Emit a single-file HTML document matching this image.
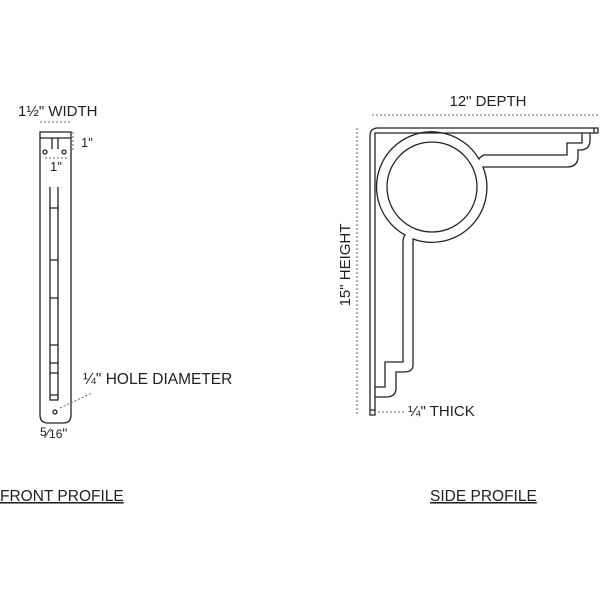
<!DOCTYPE html>
<html><head><style>
html,body{margin:0;padding:0;background:#fff;width:600px;height:600px;overflow:hidden}
text{font-family:"Liberation Sans",sans-serif;fill:#222}
</style></head><body>
<svg width="600" height="600" viewBox="0 0 600 600" xmlns="http://www.w3.org/2000/svg">
<g fill="none" stroke="#222" stroke-width="1.3">
<path d="M40 132 H71 V415 Q71 423 63 423 H48 Q40 423 40 415 Z"/>
<line x1="40" y1="138" x2="71" y2="138"/>
<line x1="52" y1="138" x2="52" y2="149"/>
<line x1="58" y1="138" x2="58" y2="149"/>
<circle cx="45" cy="152" r="2"/><circle cx="64" cy="152" r="2"/>
<circle cx="55" cy="412" r="2"/>
<path d="M50 187 V400 H58 V187"/>
<path d="M50 208H58M50 260H58M50 298H58M50 345H58M50 363H58M50 373H58M50 395H58"/>
<path d="M370 415 V136 Q370 128 378 128 H598 V133 H375 V415 Z"/>
<line x1="594" y1="128" x2="594" y2="133"/>
<line x1="370" y1="410" x2="375" y2="410"/>
<circle cx="432" cy="187" r="45"/>
<path d="M582 133 V143 H567 V155 H484 Q481 156 479 159 A55 55 0 1 0 405 235 Q403 238 403 242 V362 H385 V387 H375"/>
<path d="M590 133 V140 Q590 150 580 150 H578 V158 Q577 167 567 167 H483 A55 55 0 0 1 413 239 V365 Q413 372 404 372 H396 V388 Q396 397 386 397 H375"/>
</g>
<g fill="none" stroke="#666" stroke-width="1" stroke-dasharray="2,2">
<line x1="40" y1="122" x2="70" y2="122"/>
<line x1="73" y1="132" x2="73" y2="152"/>
<line x1="45" y1="158" x2="68" y2="158"/>
<line x1="60" y1="408" x2="92" y2="393"/>
<line x1="372" y1="115" x2="600" y2="115"/>
<line x1="357" y1="128" x2="357" y2="415"/>
<line x1="378" y1="412" x2="405" y2="412"/>
</g>
<text x="18" y="116" font-size="15">1½" WIDTH</text>
<text x="81" y="147" font-size="13">1"</text>
<text x="50" y="171" font-size="13">1"</text>
<text x="83" y="384" font-size="15.5">¼" HOLE DIAMETER</text>
<text x="40" y="438" font-size="14"><tspan font-size="12" dy="-2">5</tspan><tspan dy="2">⁄</tspan><tspan font-size="12">16</tspan>"</text>
<text x="488" y="106" font-size="15" text-anchor="middle">12" DEPTH</text>
<text transform="translate(350,265) rotate(-90)" font-size="15" text-anchor="middle">15" HEIGHT</text>
<text x="408" y="416" font-size="15">¼" THICK</text>
<text x="0" y="501" font-size="15.5" text-decoration="underline">FRONT PROFILE</text>
<text x="430" y="501" font-size="15.5" text-decoration="underline">SIDE PROFILE</text>
</svg>
</body></html>
